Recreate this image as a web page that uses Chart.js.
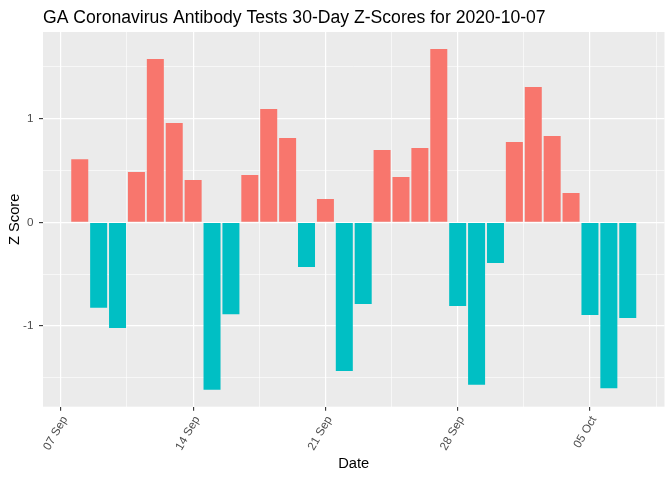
<!DOCTYPE html>
<html>
<head>
<meta charset="utf-8">
<script src="https://cdn.jsdelivr.net/npm/chart.js@4.4.1/dist/chart.umd.min.js"></script>
<style>
  html, body { margin: 0; padding: 0; background: #ffffff; }
  #zChart { display: block; }
</style>
</head>
<body>
<canvas id="zChart" width="672" height="480"></canvas>
<script>
// daily z-scores, 30 days ending 2020-10-07
const dates = [
  "2020-09-08", "2020-09-09", "2020-09-10", "2020-09-11", "2020-09-12",
  "2020-09-13", "2020-09-14", "2020-09-15", "2020-09-16", "2020-09-17",
  "2020-09-18", "2020-09-19", "2020-09-20", "2020-09-21", "2020-09-22",
  "2020-09-23", "2020-09-24", "2020-09-25", "2020-09-26", "2020-09-27",
  "2020-09-28", "2020-09-29", "2020-09-30", "2020-10-01", "2020-10-02",
  "2020-10-03", "2020-10-04", "2020-10-05", "2020-10-06", "2020-10-07"
];
const zScores = [
  0.61, -0.825, -1.02, 0.485, 1.576,
  0.958, 0.408, -1.615, -0.886, 0.457,
  1.094, 0.814, -0.43, 0.225, -1.435,
  -0.789, 0.698, 0.437, 0.717, 1.673,
  -0.808, -1.567, -0.393, 0.775, 1.306,
  0.833, 0.283, -0.895, -1.60, -0.924
];
const xTickLabels = ["07 Sep", "14 Sep", "21 Sep", "28 Sep", "05 Oct"];
const yTickValues = [-1, 0, 1];

const origin = Date.parse("2020-09-07");
const dayOf = (d) => Math.round((Date.parse(d) - origin) / 86400000);

const points = dates.map((d, i) => ({ x: dayOf(d), y: zScores[i] }));
const barColors = zScores.map((v) => (v >= 0 ? "#F8766D" : "#00BFC4"));

const FONT = "'Liberation Sans', Arial, sans-serif";

// grey panel behind the grid
const panelBg = {
  id: "panelBg",
  beforeDraw(chart) {
    const { ctx, chartArea: a } = chart;
    ctx.save();
    ctx.fillStyle = "#EBEBEB";
    ctx.fillRect(a.left, a.top, a.right - a.left, a.bottom - a.top);
    ctx.restore();
  }
};

// left aligned plot title like ggplot
const plotTitle = {
  id: "plotTitle",
  afterDraw(chart) {
    const ctx = chart.ctx;
    ctx.save();
    ctx.font = "17.6px " + FONT;
    ctx.fillStyle = "#000000";
    ctx.textAlign = "left";
    ctx.textBaseline = "alphabetic";
    ctx.fillText("GA Coronavirus Antibody Tests 30-Day Z-Scores for 2020-10-07", chart.chartArea.left, 23);
    ctx.restore();
  }
};

const isMajorX = (v) => Math.abs(v % 7) < 1e-6;
const isMajorY = (v) => Math.abs(v - Math.round(v)) < 1e-6;

new Chart(document.getElementById("zChart").getContext("2d"), {
  type: "bar",
  data: {
    datasets: [{
      data: points,
      backgroundColor: barColors,
      borderWidth: 0,
      barPercentage: 0.9,
      categoryPercentage: 1.0
    }]
  },
  options: {
    responsive: false,
    animation: false,
    layout: { padding: { top: 32, right: 7.5, left: 0, bottom: 0 } },
    plugins: {
      legend: { display: false },
      tooltip: { enabled: false },
      title: { display: false }
    },
    scales: {
      x: {
        type: "linear",
        offset: false,
        min: -0.945,
        max: 31.945,
        afterBuildTicks(scale) {
          const t = [];
          for (let v = 0; v <= 31.5; v += 3.5) t.push({ value: v });
          scale.ticks = t;
        },
        afterFit(scale) {
          scale.height = 73.3;
          scale.paddingLeft = 0;
          scale.paddingRight = 0;
        },
        border: { display: false },
        grid: {
          offset: false,
          color: "#FFFFFF",
          lineWidth: (c) => (c.tick && isMajorX(c.tick.value) ? 1.2 : 0.6),
          tickColor: (c) => (c.tick && isMajorX(c.tick.value) ? "#333333" : "rgba(0,0,0,0)"),
          tickLength: 4,
          tickWidth: 1.1
        },
        ticks: {
          autoSkip: false,
          minRotation: 60,
          maxRotation: 60,
          padding: 3,
          labelOffset: 4,
          color: "#4D4D4D",
          font: { family: FONT, size: 11.7 },
          callback: (v) => (isMajorX(v) ? xTickLabels[Math.round(v / 7)] : "")
        },
        title: {
          display: true,
          text: "Date",
          color: "#000000",
          font: { family: FONT, size: 14.7 },
          padding: { top: 0, bottom: 7.2 }
        }
      },
      y: {
        min: -1.779,
        max: 1.837,
        afterBuildTicks(scale) {
          const t = [];
          yTickValues.forEach((v) => { t.push({ value: v }); });
          [-1.5, -0.5, 0.5, 1.5].forEach((v) => t.push({ value: v }));
          t.sort((a, b) => a.value - b.value);
          scale.ticks = t;
        },
        afterFit(scale) { scale.width = 43; },
        border: { display: false },
        grid: {
          color: "#FFFFFF",
          lineWidth: (c) => (c.tick && isMajorY(c.tick.value) ? 1.2 : 0.6),
          tickColor: (c) => (c.tick && isMajorY(c.tick.value) ? "#333333" : "rgba(0,0,0,0)"),
          tickLength: 4,
          tickWidth: 1.1
        },
        ticks: {
          autoSkip: false,
          padding: 5.5,
          color: "#4D4D4D",
          font: { family: FONT, size: 11.7 },
          callback: (v) => (isMajorY(v) ? String(Math.round(v)) : "")
        },
        title: {
          display: true,
          text: "Z Score",
          color: "#000000",
          font: { family: FONT, size: 14.7 },
          padding: { top: 5.7, bottom: 0 }
        }
      }
    }
  },
  plugins: [panelBg, plotTitle]
});
</script>
</body>
</html>
